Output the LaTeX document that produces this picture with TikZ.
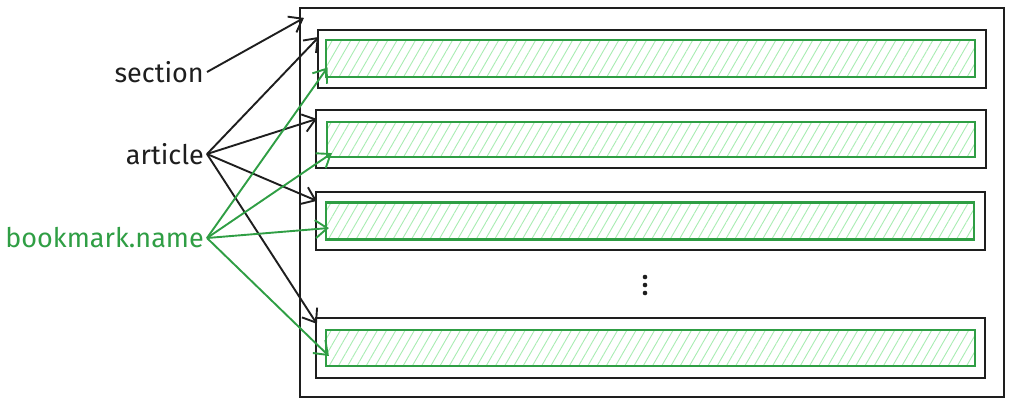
\documentclass[tikz,border=0pt]{standalone}
\usepackage{fontspec}
\setmainfont{Fira Sans}
\usetikzlibrary{arrows.meta,patterns.meta}
\definecolor{inkblack}{HTML}{1E1E1E}
\definecolor{inkgreen}{HTML}{2F9E44}
\definecolor{hatchgreen}{HTML}{A8ECB2}

\begin{document}
\begin{tikzpicture}[x=1pt,y=-1pt]
            \tikzstyle{frame} = [rectangle, draw=inkblack, line width=2.2pt, inner sep=0pt]
            \tikzstyle{entry} = [rectangle, draw=inkgreen, line width=2.2pt, inner sep=0pt, pattern={Lines[angle=60,distance=8pt,line width=0.9pt]}, pattern color=hatchgreen]
            \tikzstyle{label} = [anchor=east, inner sep=3pt, font=\fontsize{27}{30}\selectfont]
            \tikzstyle{arrow} = [line width=1.9pt,->,>={Straight Barb[length=12pt,width=18pt]}]
            \useasboundingbox (0,0) rectangle (1014,408);

            % Boxes
            \node (outer) [frame, minimum width=704pt, minimum height=389pt] at (652,202.5) {};
            \node (sec1) [frame, minimum width=668pt, minimum height=58pt] at (652,59) {};
            \node (sec2) [frame, minimum width=670pt, minimum height=58pt] at (651,139) {};
            \node (sec3) [frame, minimum width=669pt, minimum height=58pt] at (650.5,221) {};
            \node (sec4) [frame, minimum width=669pt, minimum height=60pt] at (650.5,348) {};
            \node (mark1) [entry, minimum width=649pt, minimum height=37pt] at (650.5,58.5) {};
            \node (mark2) [entry, minimum width=648pt, minimum height=35pt] at (651,139.5) {};
            \node (mark3) [entry, minimum width=648pt, minimum height=37pt] at (650,221) {};
            \node (mark4) [entry, minimum width=649pt, minimum height=36pt] at (650.5,348) {};
            \foreach \y in {277,285,293}
                \fill[inkblack] (645,\y) circle (2.3pt);

            % Labels
            \node (section) [label, text=inkblack] at (207,72) {section};
            \node (article) [label, text=inkblack] at (207,154) {article};
            \node (bookmark) [label, text=inkgreen] at (207,238) {bookmark.name};

            % Arrows
            \draw [arrow, inkblack] (section.east) -- ([shift={(5,11)}]outer.north west);
            \draw [arrow, inkblack] (article.east) -- ([shift={(2,8)}]sec1.north west);
            \draw [arrow, inkblack] (article.east) -- ([shift={(2,10)}]sec2.north west);
            \draw [arrow, inkblack] (article.east) -- ([shift={(2,10)}]sec3.north west);
            \draw [arrow, inkblack] (article.east) -- ([shift={(2,7)}]sec4.north west);
            \draw [arrow, inkgreen] (bookmark.east) -- ([shift={(2,-10)}]mark1.south west);
            \draw [arrow, inkgreen] (bookmark.east) -- ([shift={(6,-5)}]mark2.south west);
            \draw [arrow, inkgreen] (bookmark.east) -- ([shift={(4,7)}]mark3.west);
            \draw [arrow, inkgreen] (bookmark.east) -- ([shift={(4,8)}]mark4.west);
        \end{tikzpicture}
\end{document}
